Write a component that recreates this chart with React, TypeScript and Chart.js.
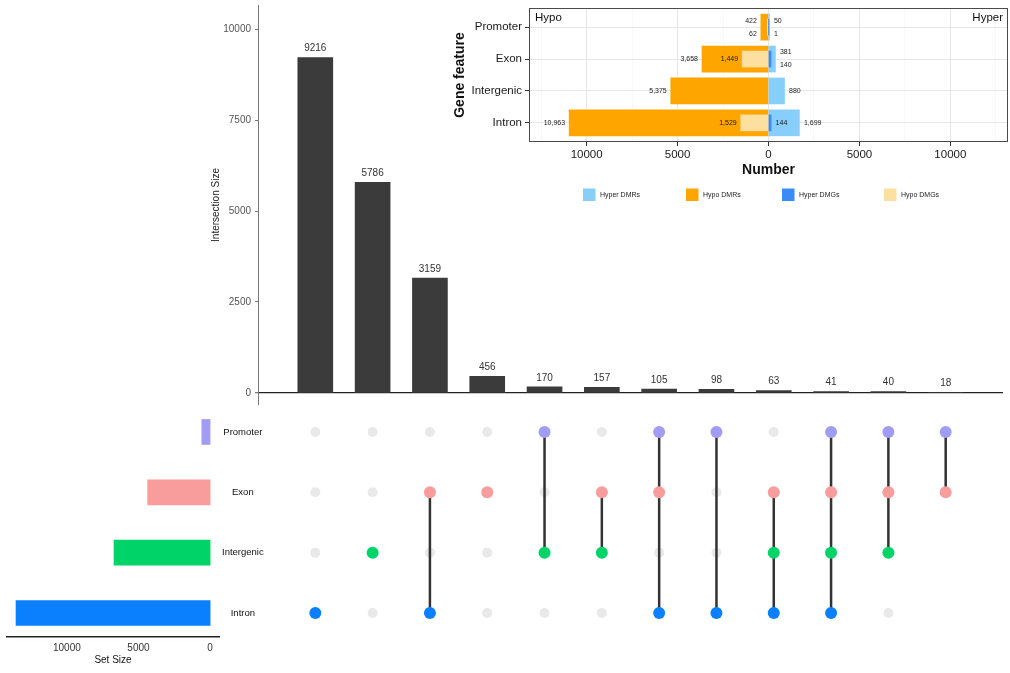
import React, { useEffect, useRef } from "react";
import { Chart, registerables } from "chart.js";

Chart.register(...registerables);

const FONT = "'Liberation Sans', Arial, Helvetica, sans-serif";
Chart.defaults.font.family = FONT;

// ---------- Data ----------
const setNames = ["Promoter", "Exon", "Intergenic", "Intron"];
const setSizes = [580, 4360, 6710, 13550];
const setColors = ["#a19df6", "#f99c9c", "#00d468", "#0a80ff"];
const setSizeTicks = [0, 5000, 10000];

const intersectionSizes = [9216, 5786, 3159, 456, 170, 157, 105, 98, 63, 41, 40, 18];
const intersectionMembers = [
  ["Intron"],
  ["Intergenic"],
  ["Exon", "Intron"],
  ["Exon"],
  ["Promoter", "Intergenic"],
  ["Exon", "Intergenic"],
  ["Promoter", "Exon", "Intron"],
  ["Promoter", "Intron"],
  ["Exon", "Intergenic", "Intron"],
  ["Promoter", "Exon", "Intergenic", "Intron"],
  ["Promoter", "Exon", "Intergenic"],
  ["Promoter", "Exon"],
];
// empty matrix cells that are not drawn in the reference: [column, row]
const hiddenEmptyCells = [[11, 2], [11, 3]];
const intersectionTicks = [0, 2500, 5000, 7500, 10000];

const featureNames = ["Promoter", "Exon", "Intergenic", "Intron"];
const hyperDMRs = [50, 381, 880, 1699];
const hypoDMRs = [422, 3658, 5375, 10963];
const hyperDMGs = [1, 140, null, 144];
const hypoDMGs = [62, 1449, null, 1529];
const insetGridTicks = [-12500, -10000, -7500, -5000, -2500, 0, 2500, 5000, 7500, 10000, 12500];

// label vertical nudges (in label steps) per inset dataset, per feature row
const insetLabelNudge = [
  [-1, -1, 0, 0], // Hyper DMRs
  [-1, 0, 0, 0], // Hypo DMRs
  [1, 1, 0, 0], // Hyper DMGs
  [1, 0, 0, 0], // Hypo DMGs
];

// ---------- Helpers ----------
const fixSize = (prop: "width" | "height", size: number) => (s: any) => {
  s[prop] = size;
  s.paddingTop = 0;
  s.paddingBottom = 0;
  s.paddingLeft = 0;
  s.paddingRight = 0;
};

function ChartBox(props: { left: number; top: number; width: number; height: number; make: () => any }) {
  const ref = useRef<HTMLCanvasElement>(null);
  useEffect(() => {
    const chart = new Chart(ref.current as HTMLCanvasElement, props.make());
    return () => chart.destroy();
  }, []);
  return (
    <canvas
      ref={ref}
      width={props.width}
      height={props.height}
      style={{ position: "absolute", left: props.left, top: props.top, width: props.width, height: props.height }}
    />
  );
}

// ---------- Main intersection bar chart ----------
const barValueLabels = {
  id: "barValueLabels",
  afterDatasetsDraw(chart: any) {
    const ctx = chart.ctx;
    const meta = chart.getDatasetMeta(0);
    ctx.save();
    ctx.font = `10px ${FONT}`;
    ctx.fillStyle = "#333";
    ctx.textAlign = "center";
    ctx.textBaseline = "bottom";
    meta.data.forEach((el: any, i: number) => {
      ctx.fillText(String(intersectionSizes[i]), el.x, el.y - 4);
    });
    ctx.restore();
  },
};

function makeMainConfig() {
  return {
    type: "bar",
    data: {
      datasets: [
        {
          data: intersectionSizes.map((v, i) => ({ x: i + 1, y: v })),
          backgroundColor: "#3b3b3b",
          barThickness: 35,
        },
      ],
    },
    options: {
      animation: false,
      responsive: false,
      devicePixelRatio: 1,
      events: [],
      layout: { autoPadding: false, padding: { top: 5, right: 7, left: 0, bottom: 0 } },
      plugins: { legend: { display: false }, tooltip: { enabled: false } },
      scales: {
        x: { type: "linear", min: 0, max: 13, offset: false, display: false },
        y: {
          type: "linear",
          min: -330,
          max: 10660,
          bounds: "data",
          offset: false,
          afterBuildTicks: (s: any) => {
            s.ticks = intersectionTicks.map((v) => ({ value: v }));
          },
          ticks: { callback: (v: any) => String(v), font: { size: 10 }, color: "#555", padding: 4 },
          grid: {
            offset: false,
            color: (c: any) => (c.tick && c.tick.value === 0 ? "#222" : "rgba(0,0,0,0)"),
            lineWidth: (c: any) => (c.tick && c.tick.value === 0 ? 1.3 : 1),
            tickColor: "#777",
            tickLength: 3,
          },
          border: { display: true, color: "#777", width: 1 },
          title: {
            display: true,
            text: "Intersection Size",
            font: { size: 10 },
            color: "#222",
            padding: { top: 10, bottom: 0 },
          },
          afterFit: fixSize("width", 58),
        },
      },
    },
    plugins: [barValueLabels],
  };
}

// ---------- Matrix of dots ----------
function makeMatrixConfig() {
  const filled: any[] = [];
  const filledColors: string[] = [];
  const empty: any[] = [];
  const lines: any[] = [];
  intersectionMembers.forEach((members, c) => {
    const idx = members.map((m) => setNames.indexOf(m));
    setNames.forEach((_, r) => {
      if (idx.includes(r)) {
        filled.push({ x: c + 1, y: r });
        filledColors.push(setColors[r]);
      } else if (!hiddenEmptyCells.some(([hc, hr]) => hc === c && hr === r)) {
        empty.push({ x: c + 1, y: r });
      }
    });
    if (idx.length > 1) {
      lines.push({
        data: [
          { x: c + 1, y: Math.min(...idx) },
          { x: c + 1, y: Math.max(...idx) },
        ],
        showLine: true,
        borderColor: "#333",
        borderWidth: 2.5,
        pointRadius: 0,
        order: 1,
      });
    }
  });
  return {
    type: "scatter",
    data: {
      datasets: [
        { data: filled, backgroundColor: filledColors, pointRadius: 6, borderWidth: 0, order: 0 },
        ...lines,
        { data: empty, backgroundColor: "#e9e9e9", pointRadius: 5, borderWidth: 0, order: 2 },
      ],
    },
    options: {
      animation: false,
      responsive: false,
      devicePixelRatio: 1,
      events: [],
      layout: { autoPadding: false, padding: 0 },
      plugins: { legend: { display: false }, tooltip: { enabled: false } },
      scales: {
        x: { type: "linear", min: 0, max: 13, display: false },
        y: { type: "linear", min: -0.53, max: 3.448, reverse: true, display: false },
      },
    },
  };
}

// ---------- Set size bars ----------
function makeSetSizeConfig() {
  return {
    type: "bar",
    data: {
      datasets: [
        {
          data: setSizes.map((v, i) => ({ x: v, y: i })),
          backgroundColor: setColors,
          barThickness: 25,
        },
      ],
    },
    options: {
      indexAxis: "y",
      animation: false,
      responsive: false,
      devicePixelRatio: 1,
      events: [],
      layout: { autoPadding: false, padding: { left: 7, top: 0, right: 0, bottom: 0 } },
      plugins: { legend: { display: false }, tooltip: { enabled: false } },
      scales: {
        x: {
          type: "linear",
          reverse: true,
          min: -620,
          max: 14180,
          bounds: "data",
          offset: false,
          position: "bottom",
          afterBuildTicks: (s: any) => {
            s.ticks = setSizeTicks.map((v) => ({ value: v }));
          },
          ticks: { callback: (v: any) => String(v), font: { size: 10 }, color: "#333", padding: 5, maxRotation: 0 },
          grid: { display: false, drawTicks: false },
          border: { display: true, color: "#222", width: 1.5 },
          title: {
            display: true,
            text: "Set Size",
            font: { size: 10 },
            color: "#111",
            padding: { top: 0, bottom: 7 },
          },
          afterFit: fixSize("height", 36),
        },
        y: {
          type: "linear",
          position: "right",
          reverse: true,
          min: -0.53,
          max: 3.398,
          bounds: "data",
          offset: false,
          afterBuildTicks: (s: any) => {
            s.ticks = setNames.map((_, i) => ({ value: i }));
          },
          ticks: {
            callback: (v: any) => setNames[v] ?? "",
            font: { size: 9.5 },
            color: "#111",
            crossAlign: "center",
            padding: 3,
            autoSkip: false,
          },
          grid: { display: false, drawTicks: false, offset: false },
          border: { display: false },
          afterFit: fixSize("width", 56),
        },
      },
    },
  };
}

// ---------- Inset chart ----------
const fmt = (v: number) => Math.abs(v).toLocaleString("en-US");

const insetDecor = {
  id: "insetDecor",
  afterDatasetsDraw(chart: any) {
    const ctx = chart.ctx;
    const ds = chart.data.datasets;
    const dmrEnd: any = { pos: {}, neg: {} };
    [0, 1].forEach((d) => {
      chart.getDatasetMeta(d).data.forEach((el: any, i: number) => {
        const raw = ds[d].data[i];
        dmrEnd[raw.x >= 0 ? "pos" : "neg"][raw.y] = el.x;
      });
    });
    ctx.save();
    ctx.font = `7px ${FONT}`;
    ctx.fillStyle = "#1a1a1a";
    ctx.textBaseline = "middle";
    ds.forEach((dset: any, d: number) => {
      chart.getDatasetMeta(d).data.forEach((el: any, i: number) => {
        const raw = dset.data[i];
        const side = raw.x >= 0 ? "pos" : "neg";
        const nudge = insetLabelNudge[d][raw.y];
        const anchor = nudge !== 0 ? dmrEnd[side][raw.y] : el.x;
        const y = el.y + nudge * 6.5;
        if (raw.x >= 0) {
          ctx.textAlign = "left";
          ctx.fillText(fmt(raw.x), anchor + 4.5, y);
        } else {
          ctx.textAlign = "right";
          ctx.fillText(fmt(raw.x), anchor - 4, y);
        }
      });
    });
    ctx.restore();
  },
  afterDraw(chart: any) {
    const ctx = chart.ctx;
    const a = chart.chartArea;
    ctx.save();
    ctx.strokeStyle = "#4a4a4a";
    ctx.lineWidth = 1;
    ctx.strokeRect(a.left + 0.5, a.top + 0.5, a.right - a.left - 1, a.bottom - a.top - 1);
    ctx.font = `11.5px ${FONT}`;
    ctx.fillStyle = "#111";
    ctx.textBaseline = "middle";
    ctx.textAlign = "left";
    ctx.fillText("Hypo", a.left + 6, a.top + 9.6);
    ctx.textAlign = "right";
    ctx.fillText("Hyper", a.right - 5, a.top + 9.6);
    // legend
    const legendX = [133, 236, 332, 434];
    chart.data.datasets.forEach((dset: any, d: number) => {
      const x = legendX[d];
      ctx.fillStyle = dset.backgroundColor;
      ctx.fillRect(x, 188.5, 12.5, 12.5);
      ctx.fillStyle = "#222";
      ctx.font = `7px ${FONT}`;
      ctx.textAlign = "left";
      ctx.fillText(dset.label, x + 17, 195);
    });
    ctx.restore();
  },
};

function makeInsetConfig() {
  const toPts = (arr: (number | null)[], sign: number) =>
    arr.map((v, i) => (v == null ? null : { x: sign * v, y: i })).filter((p) => p !== null);
  return {
    type: "bar",
    data: {
      datasets: [
        { label: "Hyper DMRs", data: toPts(hyperDMRs, 1), backgroundColor: "#87cefa", barThickness: 26, grouped: false, order: 2 },
        { label: "Hypo DMRs", data: toPts(hypoDMRs, -1), backgroundColor: "#ffa500", barThickness: 26, grouped: false, order: 2 },
        { label: "Hyper DMGs", data: toPts(hyperDMGs, 1), backgroundColor: "#3a8cf5", barThickness: 16, grouped: false, order: 1 },
        { label: "Hypo DMGs", data: toPts(hypoDMGs, -1), backgroundColor: "#fddf9f", barThickness: 16, grouped: false, order: 1 },
      ],
    },
    options: {
      indexAxis: "y",
      animation: false,
      responsive: false,
      devicePixelRatio: 1,
      events: [],
      layout: { autoPadding: false, padding: { left: 0, right: 2, top: 8, bottom: 0 } },
      plugins: { legend: { display: false }, tooltip: { enabled: false } },
      scales: {
        x: {
          type: "linear",
          min: -13170,
          max: 13170,
          bounds: "data",
          offset: false,
          afterBuildTicks: (s: any) => {
            s.ticks = insetGridTicks.map((v) => ({ value: v }));
          },
          ticks: {
            callback: (v: any) => (v % 5000 === 0 ? String(Math.abs(v)) : ""),
            font: { size: 11.5 },
            color: "#1a1a1a",
            padding: 2,
            autoSkip: false,
            maxRotation: 0,
          },
          grid: {
            offset: false,
            color: (c: any) => (c.tick && c.tick.value % 5000 === 0 ? "#e6e6e6" : "#f4f4f4"),
            lineWidth: (c: any) => (c.tick && c.tick.value % 5000 === 0 ? 1 : 0.6),
            tickColor: (c: any) => (c.tick && c.tick.value % 5000 === 0 ? "#333" : "rgba(0,0,0,0)"),
            tickLength: 4,
          },
          border: { display: false },
          title: {
            display: true,
            text: "Number",
            font: { size: 14, weight: "bold" },
            color: "#111",
            padding: { top: 0, bottom: 26.6 },
          },
          afterFit: fixSize("height", 63),
        },
        y: {
          type: "linear",
          reverse: true,
          min: -0.6,
          max: 3.6,
          bounds: "data",
          offset: false,
          afterBuildTicks: (s: any) => {
            s.ticks = featureNames.map((_, i) => ({ value: i }));
          },
          ticks: {
            callback: (v: any) => featureNames[v] ?? "",
            font: { size: 11.5 },
            color: "#1a1a1a",
            padding: 3,
            autoSkip: false,
          },
          grid: { offset: false, color: "#e6e6e6", tickColor: "#333", tickLength: 4 },
          border: { display: false },
          title: {
            display: true,
            text: "Gene feature",
            font: { size: 14, weight: "bold" },
            color: "#111",
            padding: { top: 1.6, bottom: 0 },
          },
          afterFit: fixSize("width", 79),
        },
      },
    },
    plugins: [insetDecor],
  };
}

export default function App() {
  return (
    <div style={{ position: "absolute", left: 0, top: 0, width: 1010, height: 673, background: "#fff" }}>
      <ChartBox left={200} top={0} width={810} height={405} make={makeMainConfig} />
      <ChartBox left={258} top={400} width={745} height={240} make={makeMatrixConfig} />
      <ChartBox left={0} top={400} width={275} height={273} make={makeSetSizeConfig} />
      <ChartBox left={450} top={0} width={560} height={205} make={makeInsetConfig} />
    </div>
  );
}
